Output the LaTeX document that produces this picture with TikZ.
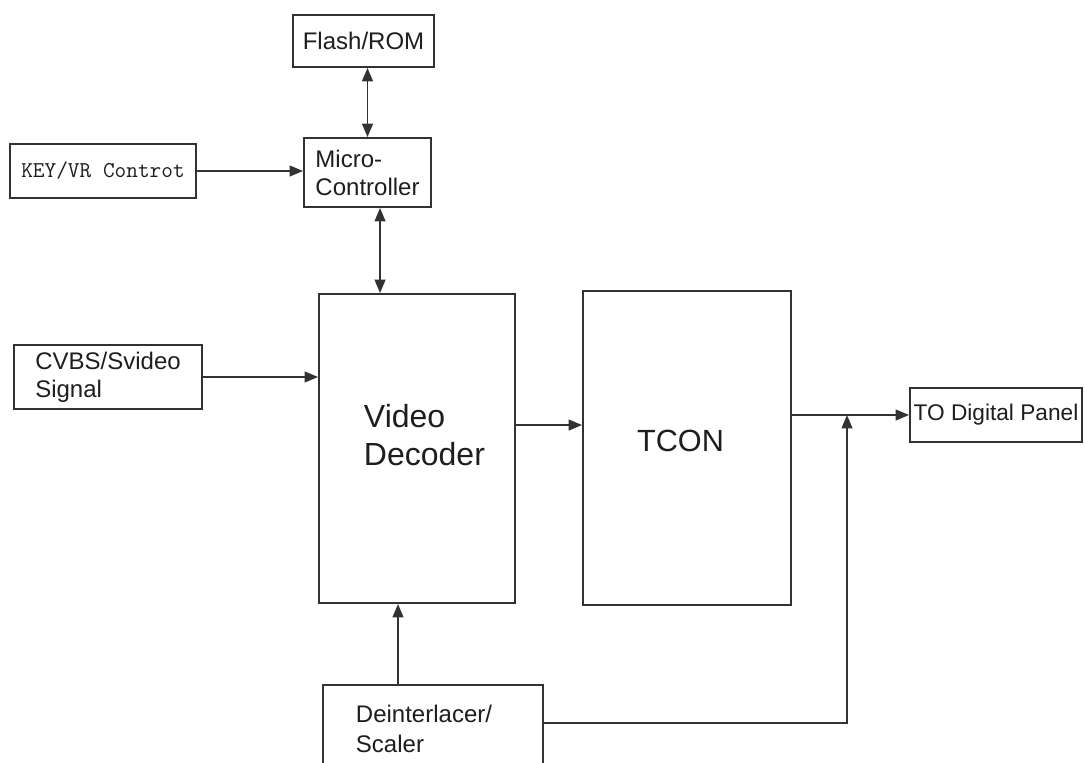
\documentclass[tikz,border=0pt]{standalone}
\usepackage{fontspec}
\setmainfont{Liberation Sans}
\usetikzlibrary{arrows.meta}
\definecolor{linea}{RGB}{50,50,50}
\definecolor{testo}{RGB}{30,30,30}
\tikzset{
  blocco/.style={draw=linea, line width=1.4pt, fill=white, text=testo, inner sep=0pt,
    font=\fontsize{18}{21}\selectfont, align=left},
  testogrande/.style={text=testo, align=left, font=\fontsize{24}{28}\selectfont},
  freccia/.style={draw=linea, line width=1.4pt, -{Triangle[length=10pt,width=8pt]}},
  doppia/.style={draw=linea, line width=1.4pt,
    {Triangle[length=10pt,width=8pt]}-{Triangle[length=10pt,width=8pt]}},
}
\begin{document}
\begin{tikzpicture}[x=0.75pt,y=-0.75pt]
    \useasboundingbox (0,0) rectangle (1085,763);

    % Blocchi di controllo in alto
    \node[blocco, minimum width=105.75pt, minimum height=39pt](flash) at (363.5,41) {Flash/ROM};
    \node[blocco, minimum width=95.25pt, minimum height=51.75pt](micro) at (367.5,172.5) {Micro-\\Controller};
    \node[blocco, minimum width=139.5pt, minimum height=40.5pt,
      font=\fontsize{17}{20}\selectfont\ttfamily](key) at (103,171) {KEY/VR Controt};

    % Ingresso e blocchi principali
    \node[blocco, minimum width=141pt, minimum height=48pt](cvbs) at (108,377) {CVBS/Svideo\\Signal};
    \node[blocco, minimum width=147pt, minimum height=231.75pt,
      label={[testogrande, xshift=5.6pt, yshift=10pt]center:Video\\Decoder}](video) at (417,448.5) {};
    \node[blocco, minimum width=156pt, minimum height=235.5pt,
      label={[testogrande, font=\fontsize{23}{28}\selectfont, xshift=-4.9pt, yshift=5.3pt]center:TCON}](tcon) at (687,448) {};
    \node[blocco, minimum width=129pt, minimum height=40.5pt,
      font=\fontsize{17}{20}\selectfont](todp) at (996,415) {TO Digital Panel};
    \node[blocco, minimum width=165pt, minimum height=78.75pt,
      label={[text=testo, align=left, font=\fontsize{18}{23}\selectfont, xshift=-6.75pt, yshift=6.4pt]center:Deinterlacer/\\Scaler}](deint) at (433,737.5) {};

    % Punto di innesto sulla linea di uscita
    \coordinate (innesto) at (847,415);

    % Collegamenti
    \draw[doppia] (flash.south -| micro.north) -- (micro.north);
    \draw[doppia] ([xshift=9.4pt]micro.south) -- ([xshift=9.4pt]micro.south |- video.north);
    \draw[freccia] (key.east) -- (key.east -| micro.west);
    \draw[freccia] (cvbs.east) -- (cvbs.east -| video.west);
    \draw[freccia] ([yshift=17.6pt]video.east) -- ([yshift=17.6pt]video.east -| tcon.west);
    \draw[freccia] (tcon.east |- todp.west) -- (todp.west);
    \draw[freccia] ([xshift=-26.25pt]deint.north) -- ([xshift=-26.25pt]deint.north |- video.south);
    \draw[freccia] ([yshift=10.9pt]deint.east) -| (innesto);
\end{tikzpicture}
\end{document}
